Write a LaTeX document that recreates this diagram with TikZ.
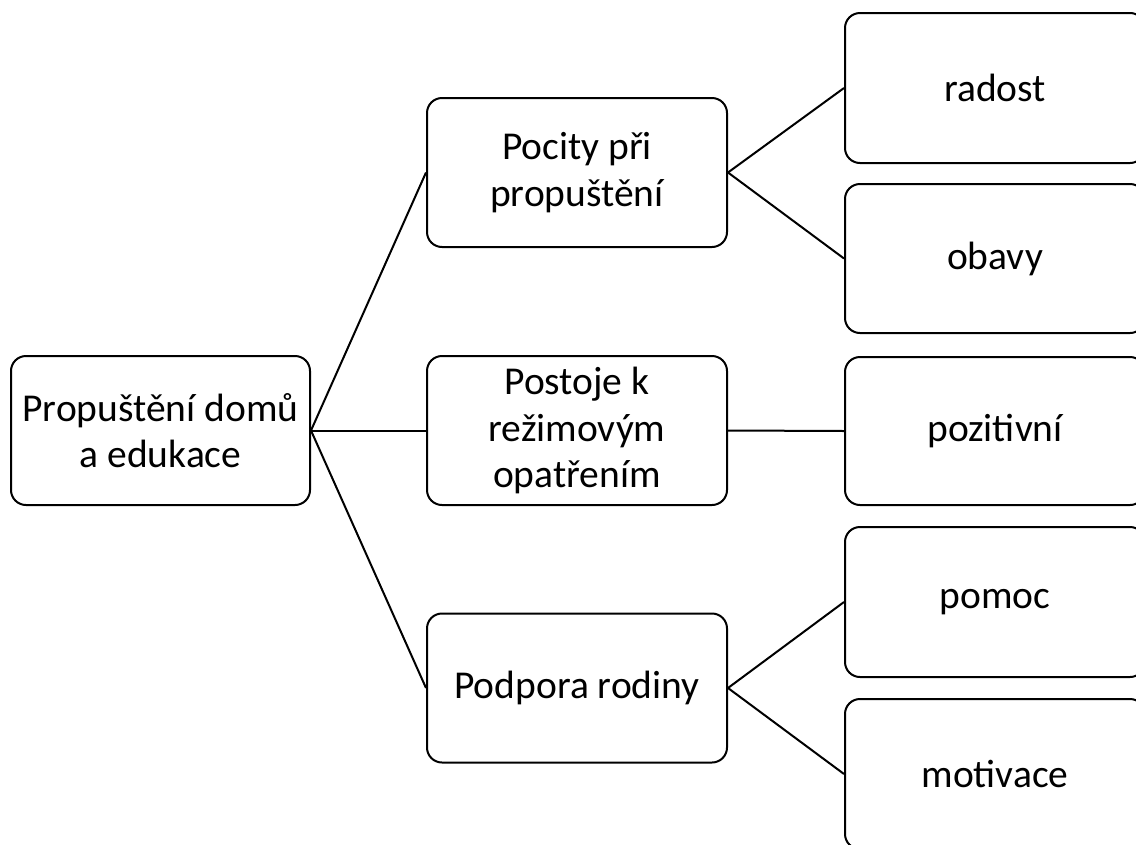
\documentclass[tikz,border=0pt]{standalone}
\usepackage{fontspec}
\setmainfont{Carlito}
\begin{document}
\begin{tikzpicture}[x=1pt,y=-1pt,
  box/.style={draw=black, line width=2pt, rounded corners=15pt, fill=white,
    minimum width=300pt, minimum height=149pt, inner sep=0pt, align=center,
    font=\fontsize{39.5}{46.5}\selectfont},
  link/.style={draw=black, line width=2pt}]
\useasboundingbox (0,0) rectangle (1136,844);
\clip (0,0) rectangle (1136,844);
\fill[white] (0,0) rectangle (1136,844);
\node[box, minimum width=299pt] (root) at (160.5,430.5) {Propuštění domů\\a edukace};
\node[box] (pocity) at (577,172.5) {Pocity při\\propuštění};
\node[box] (postoje) at (577,430.5) {Postoje k\\režimovým\\opatřením};
\node[box] (podpora) at (577,688) {Podpora rodiny};
\node[box, minimum height=150pt] (radost) at (995,88) {radost};
\node[box] (obavy) at (995,258.5) {obavy};
\node[box, minimum height=148pt] (pozit) at (995,431) {pozitivní};
\node[box, minimum height=150pt] (pomoc) at (995,602) {pomoc};
\node[box, minimum height=150pt] (motiv) at (995,774) {motivace};
\draw[link] (root.east) -- (pocity.west);
\draw[link] (root.east) -- (postoje.west);
\draw[link] (root.east) -- (podpora.west);
\draw[link] (pocity.east) -- (radost.west);
\draw[link] (pocity.east) -- (obavy.west);
\draw[link] (postoje.east) -- (pozit.west);
\draw[link] (podpora.east) -- (pomoc.west);
\draw[link] (podpora.east) -- (motiv.west);
\end{tikzpicture}
\end{document}
